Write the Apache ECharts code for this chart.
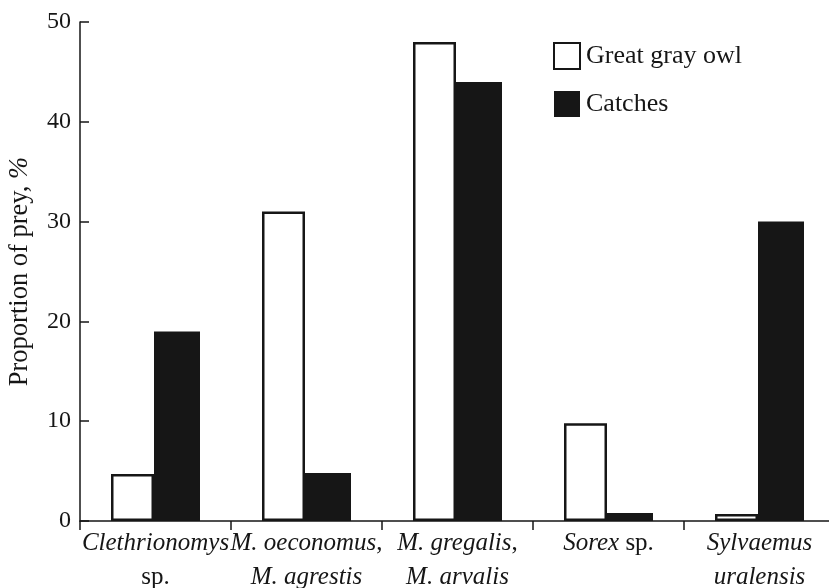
<!DOCTYPE html>
<html>
<head>
<meta charset="utf-8">
<script src="https://cdn.jsdelivr.net/npm/echarts@6/dist/echarts.min.js"></script>
<style>
html,body{margin:0;padding:0;background:#fff;}
#chart{width:829px;height:588px;}
</style>
</head>
<body>
<div id="chart"></div>
<script>
var categories = ['Clethrionomys sp.', 'M. oeconomus, M. agrestis', 'M. gregalis, M. arvalis', 'Sorex sp.', 'Sylvaemus uralensis'];
var categoryLabels = [
  '{i|Clethrionomys}\n{n|sp.}',
  '{i|M. oeconomus}{n|,}\n{i|M. agrestis}',
  '{i|M. gregalis}{n|,}\n{i|M. arvalis}',
  '{i|Sorex}{n| sp.}',
  '{i|Sylvaemus}\n{i|uralensis}'
];
var owlValues = [4.7, 31, 48, 9.8, 0.7];
var catchValues = [19, 4.8, 44, 0.8, 30];
var seriesNames = ['Great gray owl', 'Catches'];
var yTicks = [0, 10, 20, 30, 40, 50];

var FONT = 'Liberation Serif';
var INK = '#161616';
var chart = echarts.init(document.getElementById('chart'));
chart.setOption({
  animation: false,
  backgroundColor: '#fff',
  textStyle: {fontFamily: FONT, color: INK},
  grid: {left: 80, top: 22, width: 755, height: 499, containLabel: false, outerBoundsMode: 'none'},
  legend: {
    orient: 'vertical', left: 548, top: 37,
    itemWidth: 26, itemHeight: 26, itemGap: 21,
    icon: 'rect',
    textStyle: {fontFamily: FONT, fontSize: 26, color: INK, padding: [0, 0, 0, 1]},
    data: seriesNames
  },
  xAxis: {
    type: 'category',
    data: categories,
    axisLine: {lineStyle: {color: INK, width: 1.5}},
    axisTick: {show: true, inside: false, length: 9, lineStyle: {color: INK, width: 1.5}},
    axisLabel: {
      interval: 0, margin: 5, hideOverlap: false,
      formatter: function (v, i) { return categoryLabels[i]; },
      rich: {
        i: {fontFamily: FONT, fontStyle: 'italic', fontSize: 25, color: INK, lineHeight: 34},
        n: {fontFamily: FONT, fontSize: 25, color: INK, lineHeight: 34}
      }
    }
  },
  yAxis: {
    type: 'value', min: 0, max: 50, interval: 10,
    name: 'Proportion of prey, {i|%}',
    nameLocation: 'middle', nameGap: 46,
    nameTextStyle: {
      fontFamily: FONT, fontSize: 26.5, color: INK,
      rich: {i: {fontFamily: FONT, fontSize: 26.5, fontStyle: 'italic', color: INK}}
    },
    axisLine: {show: true, lineStyle: {color: INK, width: 1.5}},
    axisTick: {show: true, inside: true, length: 9, lineStyle: {color: INK, width: 1.5}},
    splitLine: {show: false},
    axisLabel: {
      margin: 9, fontFamily: FONT, fontSize: 24, color: INK,
      formatter: function (v) { return yTicks.indexOf(v) >= 0 ? String(v) : ''; }
    }
  },
  series: [
    {
      name: seriesNames[0], type: 'bar', data: owlValues,
      barWidth: 43, barGap: '0%',
      itemStyle: {color: '#ffffff', borderColor: INK, borderWidth: 2.5}
    },
    {
      name: seriesNames[1], type: 'bar', data: catchValues,
      barWidth: 46, barGap: '0%',
      itemStyle: {color: INK, borderColor: INK, borderWidth: 0}
    }
  ]
});
</script>
</body>
</html>
